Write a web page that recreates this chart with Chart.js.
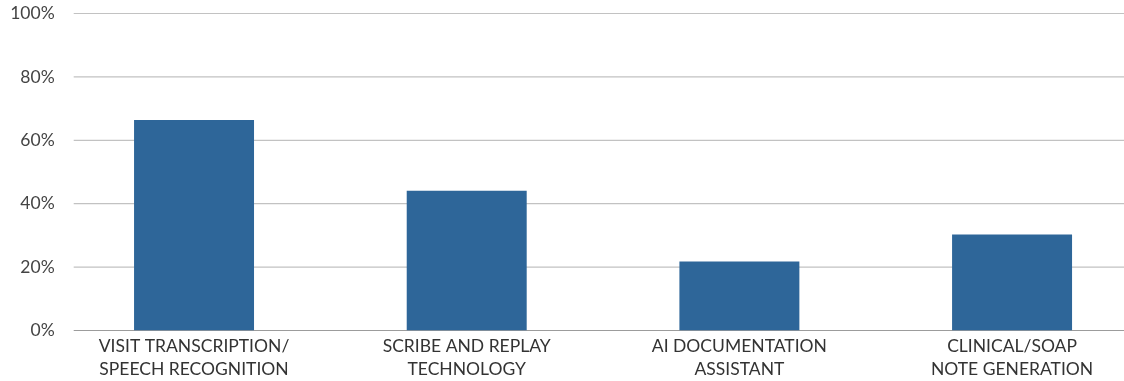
<!DOCTYPE html>
<html>
<head>
<meta charset="utf-8">
<script src="https://cdn.jsdelivr.net/npm/chart.js@4"></script>
<style>
  html, body { margin: 0; padding: 0; overflow: hidden; background: #fff; }
</style>
</head>
<body>
<canvas id="chart" width="1149" height="381"></canvas>
<script>
var categories = [
  ["VISIT TRANSCRIPTION/", "SPEECH RECOGNITION"],
  ["SCRIBE AND REPLAY", "TECHNOLOGY"],
  ["AI DOCUMENTATION", "ASSISTANT"],
  ["CLINICAL/SOAP", "NOTE GENERATION"]
];
var shares = [66.4, 44.1, 21.8, 30.3];
var yTicks = [0, 20, 40, 60, 80, 100];

// horizontal rules begin a bit right of the plot edge, behind the bars
var gridLines = {
  id: "gridLines",
  beforeDatasetsDraw: function (chart) {
    var ctx = chart.ctx;
    var y = chart.scales.y;
    var area = chart.chartArea;
    ctx.save();
    ctx.lineWidth = 1.2;
    yTicks.forEach(function (v) {
      var py = y.getPixelForValue(v);
      ctx.strokeStyle = v === 0 ? "#9c9c9c" : "#c2c2c2";
      ctx.beginPath();
      ctx.moveTo(area.left + 16, py);
      ctx.lineTo(area.right, py);
      ctx.stroke();
    });
    ctx.restore();
  }
};

new Chart(document.getElementById("chart"), {
  type: "bar",
  data: {
    labels: categories,
    datasets: [
      {
        data: shares,
        backgroundColor: "#2e6699",
        barPercentage: 0.44,
        categoryPercentage: 1
      }
    ]
  },
  options: {
    responsive: false,
    animation: false,
    layout: { padding: { top: 12, left: 0, right: 0.6, bottom: 0 } },
    plugins: { legend: { display: false }, tooltip: { enabled: false } },
    scales: {
      x: {
        grid: { display: false, drawTicks: false },
        border: { display: false },
        ticks: {
          autoSkip: false,
          maxRotation: 0,
          padding: 4,
          color: "#333333",
          font: { family: "Lato", size: 17.5, lineHeight: 1.34 }
        },
        afterFit: function (scale) { scale.height = 50.5; }
      },
      y: {
        min: 0,
        max: 100,
        grid: { display: false, drawTicks: false },
        border: { display: false },
        ticks: {
          stepSize: 20,
          padding: 3,
          color: "#444444",
          font: { family: "Lato", size: 17.5 },
          callback: function (v) { return v + "%"; }
        },
        afterFit: function (scale) { scale.width = 57.7; }
      }
    }
  },
  plugins: [gridLines]
});
</script>
</body>
</html>
